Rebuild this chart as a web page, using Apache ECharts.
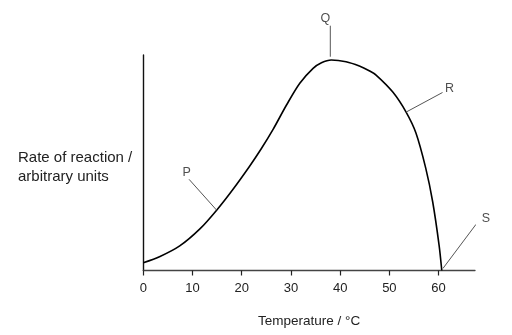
<!DOCTYPE html>
<html>
<head>
<meta charset="utf-8">
<script src="https://cdn.jsdelivr.net/npm/echarts@6/dist/echarts.min.js"></script>
<style>html,body{margin:0;padding:0;background:#fff;}#c{width:512px;height:335px;}</style>
</head>
<body>
<div id="c"></div>
<script>
var xTicks = [0, 10, 20, 30, 40, 50, 60];
var curve = [[0,3.6],[3.4,6.5],[7.4,11.4],[11.5,19.3],[14.9,28.0],[18.2,37.6],[21.6,48.4],[24.0,56.6],[26.4,65.6],[29.1,76.8],[31.8,86.9],[34.5,93.8],[36.2,96.4],[38.2,97.7],[41.2,96.9],[43.9,94.9],[45.9,92.7],[47.3,90.7],[50.7,82.8],[53.4,73.5],[55.4,63.8],[57.4,47.4],[58.8,31.9],[60.1,11.8],[60.65,0]];
var labelNames = ['P', 'Q', 'R', 'S'];
var labelPos = [[8.8,45.5],[37.0,116.7],[62.2,84.5],[69.6,23.9]];
var leaders = [
  [[9.3,42.3],[14.9,28.0]],
  [[38.0,113.6],[38.0,99.2]],
  [[53.4,73.5],[60.8,82.6]],
  [[60.9,1.0],[67.6,21.4]]
];
var xName = 'Temperature / °C';
var yName = 'Rate of reaction /\narbitrary units';

var FONT = 'Liberation Sans, Arial, sans-serif';
var chart = echarts.init(document.getElementById('c'));
var series = [{
  type: 'line', data: curve, smooth: 0.3, symbol: 'none', clip: false,
  lineStyle: {color: '#000', width: 1.6}
}];
leaders.forEach(function (seg) {
  series.push({type: 'line', data: seg, symbol: 'none', clip: false, silent: true,
    lineStyle: {color: '#555', width: 1}});
});
series.push({
  type: 'scatter', clip: false, symbolSize: 0,
  data: labelPos.map(function (p, i) { return {value: p, name: labelNames[i]}; }),
  label: {show: true, position: 'inside', formatter: '{b}', color: '#222',
    fontFamily: FONT, fontSize: 12.5}
});
chart.setOption({
  animation: false,
  backgroundColor: '#fff',
  grid: {left: 143.3, right: 37, top: 55, bottom: 64.5},
  xAxis: {
    type: 'value', min: 0, max: 67.4, interval: 10,
    name: xName, nameLocation: 'middle', nameGap: 44,
    nameTextStyle: {color: '#222', fontSize: 13.5, fontFamily: FONT},
    axisLine: {lineStyle: {color: '#444', width: 1.3}},
    axisTick: {show: true, length: 5, customValues: xTicks, lineStyle: {color: '#222', width: 1.2}},
    axisLabel: {customValues: xTicks, color: '#222', fontSize: 13, margin: 11, fontFamily: FONT},
    splitLine: {show: false}
  },
  yAxis: {
    type: 'value', min: 0, max: 100,
    axisLine: {show: true, lineStyle: {color: '#111', width: 1.4}},
    axisTick: {show: false}, axisLabel: {show: false}, splitLine: {show: false}
  },
  graphic: [{
    type: 'text', left: 18, top: 148,
    style: {text: yName, fill: '#222', fontSize: 15, lineHeight: 19, fontFamily: FONT}
  }],
  series: series
});
</script>
</body>
</html>
